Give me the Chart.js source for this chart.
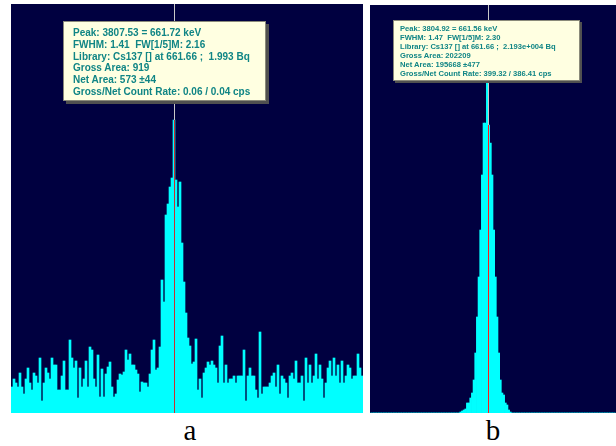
<!DOCTYPE html>
<html><head><meta charset="utf-8">
<script src="https://cdn.jsdelivr.net/npm/chart.js@4/dist/chart.umd.min.js"></script>
<style>
html,body{margin:0;padding:0;background:#fff;width:616px;height:446px;overflow:hidden;position:relative}
.panel{position:absolute;background:#000040}
.panel canvas{display:block}
#pa{left:11px;top:4px;width:352px;height:409px}
#pb{left:370px;top:5px;width:246px;height:408px}
.tip{position:absolute;box-sizing:border-box;background:#ffffe1;border:1px solid #8a8a7a;color:#108585;font-family:'Liberation Sans',Arial,sans-serif;font-weight:bold;white-space:pre}
#tipA{left:63px;top:21px;width:203px;height:80px;font-size:10px;line-height:11.8px;padding:5px 0 0 9px;box-shadow:3px 3px 0 #505050}
#tipB{left:393px;top:20px;width:187px;height:61px;font-size:7.6px;line-height:8.9px;padding:4px 0 0 6px;box-shadow:2px 2px 0 #505050}
.lab{position:absolute;width:40px;text-align:center;font-family:'Liberation Serif','Times New Roman',serif;font-size:29px;line-height:29px;color:#000}
</style></head>
<body>
<div class="panel" id="pa"><canvas id="ca" width="352" height="409"></canvas></div>
<div class="panel" id="pb"><canvas id="cb" width="246" height="408"></canvas></div>
<div class="tip" id="tipA"></div>
<div class="tip" id="tipB"></div>
<div class="lab" style="left:170px;top:416px">a</div>
<div class="lab" style="left:473px;top:416px">b</div>
<script>
// Panel a: low-activity spectrum around the 661.7 keV Cs-137 line (counts per channel)
const countsA = [26,34,30,26,40,26,19,34,45,30,23,40,37,30,55,12,30,45,40,34,55,48,48,23,23,37,52,23,23,73,55,45,52,15,45,26,34,52,26,66,63,34,
  26,58,16,44,16,39,46,51,26,16,19,33,39,38,41,63,53,59,48,48,43,39,21,31,30,30,26,39,63,73,43,45,66,
  133,111,198,209,226,235,293,233,206,231,170,131,100,75,
  67,49,51,74,23,34,15,40,45,51,48,52,48,45,30,67,77,30,48,30,34,34,37,30,37,37,37,63,12,37,45,37,37,23,15,81,19,26,26,26,
  30,37,40,26,48,19,37,34,30,15,37,40,34,52,30,30,37,12,55,30,48,30,37,59,34,48,34,15,30,45,52,37,55,37,48,30,52,30,37,48,45,34,37,37,59,45,37];
const firstChannelA = 3720;
const cursorChannelA = 3801;
const yMaxA = 409;

// Panel b: high-activity spectrum, same line
const countsB = [0,0,0,0,0,0,0,0,0,0,0,0,0,0,0,0,0,0,0,0,0,0,0,0,0,0,0,0,0,0,0,0,0,0,0,0,0,0,0,0,0,0,0,0,0,0,0,0,0,0,0,0,0,0,
  1,2,3,4,10,10,15,20,33,60,96,136,183,238,290,290,345,288,270,238,183,136,96,60,33,20,18,10,8,3,1,
  0,0,0,0,0,0,0,0,0,0,0,0,0,0,0,0,0,0,0,0,0,0,0,0,0,0,0,0,0,0,0,0,0,0,0,0,0,0,0,0,0,0,0,0,0,0,0,0,0,0,0,0,0,0,0,0,0,0,0,0,0,0,0];
const firstChannelB = 3734;
const cursorChannelB = 3805;
const yMaxB = 408;

const infoA = ["Peak: 3807.53 = 661.72 keV","FWHM: 1.41  FW[1/5]M: 2.16","Library: Cs137 [] at 661.66 ;  1.993 Bq","Gross Area: 919","Net Area: 573 \u00b144","Gross/Net Count Rate: 0.06 / 0.04 cps"];
const infoB = ["Peak: 3804.92 = 661.56 keV","FWHM: 1.47  FW[1/5]M: 2.30","Library: Cs137 [] at 661.66 ;  2.193e+004 Bq","Gross Area: 202209","Net Area: 195668 \u00b1477","Gross/Net Count Rate: 399.32 / 386.41 cps"];

document.getElementById('tipA').textContent = infoA.join('\n');
document.getElementById('tipB').textContent = infoB.join('\n');

const cursorPlugin = {
  id: 'cursor',
  afterDatasetsDraw(chart, args, opts) {
    const meta = chart.getDatasetMeta(0);
    const labels = chart.data.labels;
    const idx = labels.indexOf(opts.channel);
    if (idx < 0) return;
    const el = meta.data[idx];
    const x = Math.floor(el.x) + 0.5;
    const top = chart.chartArea.top, bottom = chart.chartArea.bottom;
    const ctx = chart.ctx;
    ctx.save();
    ctx.lineWidth = 1;
    ctx.strokeStyle = opts.upperColor;
    ctx.beginPath(); ctx.moveTo(x, top); ctx.lineTo(x, el.y); ctx.stroke();
    ctx.strokeStyle = opts.lowerColor;
    ctx.beginPath(); ctx.moveTo(x, el.y); ctx.lineTo(x, bottom); ctx.stroke();
    ctx.restore();
  }
};

function makeChart(id, counts, firstCh, cursorCh, yMax, redColor) {
  const labels = counts.map((_, i) => firstCh + i);
  return new Chart(document.getElementById(id), {
    type: 'bar',
    data: { labels, datasets: [{ data: counts, backgroundColor: '#00ffff', borderWidth: 0, barPercentage: 1, categoryPercentage: 1 }] },
    options: {
      responsive: false, animation: false,
      layout: { padding: 0 },
      plugins: { legend: { display: false }, tooltip: { enabled: false },
        cursor: { channel: cursorCh, upperColor: '#c8c8c8', lowerColor: redColor } },
      scales: {
        x: { display: false, grid: { display: false }, offset: true },
        y: { display: false, min: 0, max: yMax, grid: { display: false } }
      }
    },
    plugins: [cursorPlugin]
  });
}
makeChart('ca', countsA, firstChannelA, cursorChannelA, yMaxA, '#c83030');
makeChart('cb', countsB, firstChannelB, cursorChannelB, yMaxB, '#ff1a1a');
</script>
</body></html>
